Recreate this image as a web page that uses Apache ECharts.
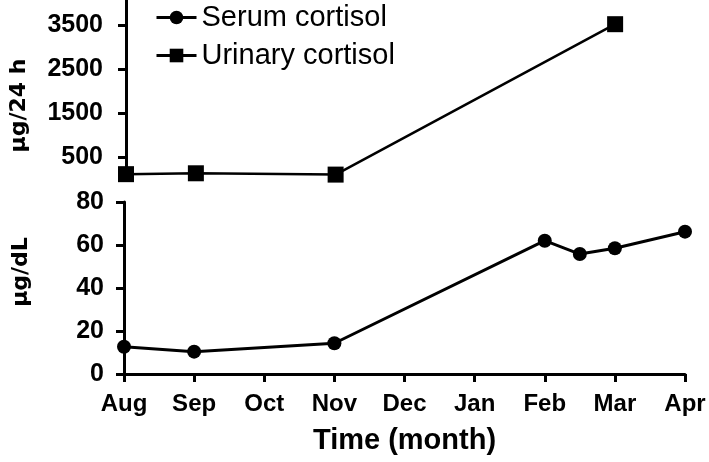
<!DOCTYPE html>
<html>
<head>
<meta charset="utf-8">
<script src="https://cdn.jsdelivr.net/npm/echarts@6/dist/echarts.min.js"></script>
<style>
  html, body { margin: 0; padding: 0; background: #fff; }
  #main { width: 709px; height: 462px; }
</style>
</head>
<body>
<div id="main"></div>
<script>
  // month ticks on the shared x axis (0 = Aug ... 8 = Apr)
  const months = ['Aug', 'Sep', 'Oct', 'Nov', 'Dec', 'Jan', 'Feb', 'Mar', 'Apr']
  // serum cortisol, μg/dL
  const serumX = [0, 1, 3, 6, 6.5, 7, 8]
  const serumVals = [12.7, 10.4, 14.3, 62, 55.8, 58.5, 66.2]
  // urinary cortisol, μg/24 h
  const urinaryX = [0, 1, 3, 7]
  const urinaryVals = [110, 130, 100, 3520]
  const urinaryTicks = [500, 1500, 2500, 3500]

  const font = '"Liberation Sans", Arial, sans-serif'
  const wide = '"DejaVu Sans", Verdana, sans-serif'
  const ink = '#000'

  const chart = echarts.init(document.getElementById('main'))

  const axisLine = { show: true, lineStyle: { color: ink, width: 3 } }
  const axisTick = { show: true, inside: false, length: 8, lineStyle: { color: ink, width: 3 } }
  const yLabel = { color: ink, fontFamily: font, fontWeight: 'bold', fontSize: 25, formatter: v => String(v) }
  const yName = { color: ink, fontFamily: wide, fontWeight: 'bold', fontSize: 22 }

  chart.setOption({
    animation: false,
    legend: {
      left: 150,
      top: -2,
      orient: 'vertical',
      itemWidth: 40,
      itemHeight: 17,
      itemGap: 9,
      lineStyle: { width: 3 },
      textStyle: { color: ink, fontFamily: font, fontSize: 29 },
      data: ['Serum cortisol', 'Urinary cortisol']
    },
    grid: [
      { left: 124, right: 24, top: 0, height: 179 },
      { left: 124, right: 24, top: 202, height: 172 }
    ],
    xAxis: [
      {
        gridIndex: 0, type: 'value', min: 0, max: 8, interval: 1,
        show: false
      },
      {
        gridIndex: 1, type: 'value', min: 0, max: 8, interval: 1,
        axisLine: axisLine,
        axisTick: axisTick,
        splitLine: { show: false },
        axisLabel: {
          color: ink, fontFamily: font, fontWeight: 'bold', fontSize: 24, margin: 18,
          formatter: v => months[v]
        },
        name: 'Time (month)',
        nameLocation: 'middle',
        nameGap: 52,
        nameTextStyle: { color: ink, fontFamily: font, fontWeight: 'bold', fontSize: 29 }
      }
    ],
    yAxis: [
      {
        gridIndex: 0, type: 'value', min: 0, max: 4070,
        axisLine: axisLine,
        axisTick: Object.assign({}, axisTick, { customValues: urinaryTicks }),
        splitLine: { show: false },
        axisLabel: Object.assign({}, yLabel, { margin: 23, customValues: urinaryTicks }),
        name: 'μg/24 h',
        nameLocation: 'middle',
        nameGap: 96,
        nameTextStyle: Object.assign({}, yName, { padding: [0, 32, 0, 0] })
      },
      {
        gridIndex: 1, type: 'value', min: 0, max: 80, interval: 20,
        axisLine: axisLine,
        axisTick: axisTick,
        splitLine: { show: false },
        axisLabel: Object.assign({}, yLabel, { margin: 20 }),
        name: 'μg/dL',
        nameLocation: 'middle',
        nameGap: 92,
        nameTextStyle: Object.assign({}, yName, { padding: [0, 0, 0, 32] })
      }
    ],
    series: [
      {
        name: 'Serum cortisol',
        type: 'line',
        xAxisIndex: 1, yAxisIndex: 1,
        symbol: 'circle',
        symbolSize: 14,
        itemStyle: { color: ink },
        lineStyle: { color: ink, width: 3 },
        clip: false,
        data: serumX.map((x, i) => [x, serumVals[i]])
      },
      {
        name: 'Urinary cortisol',
        type: 'line',
        xAxisIndex: 0, yAxisIndex: 0,
        symbol: 'rect',
        symbolSize: 16,
        itemStyle: { color: ink },
        lineStyle: { color: ink, width: 2.5 },
        clip: false,
        data: urinaryX.map((x, i) => [x, urinaryVals[i]])
      }
    ]
  })
</script>
</body>
</html>
